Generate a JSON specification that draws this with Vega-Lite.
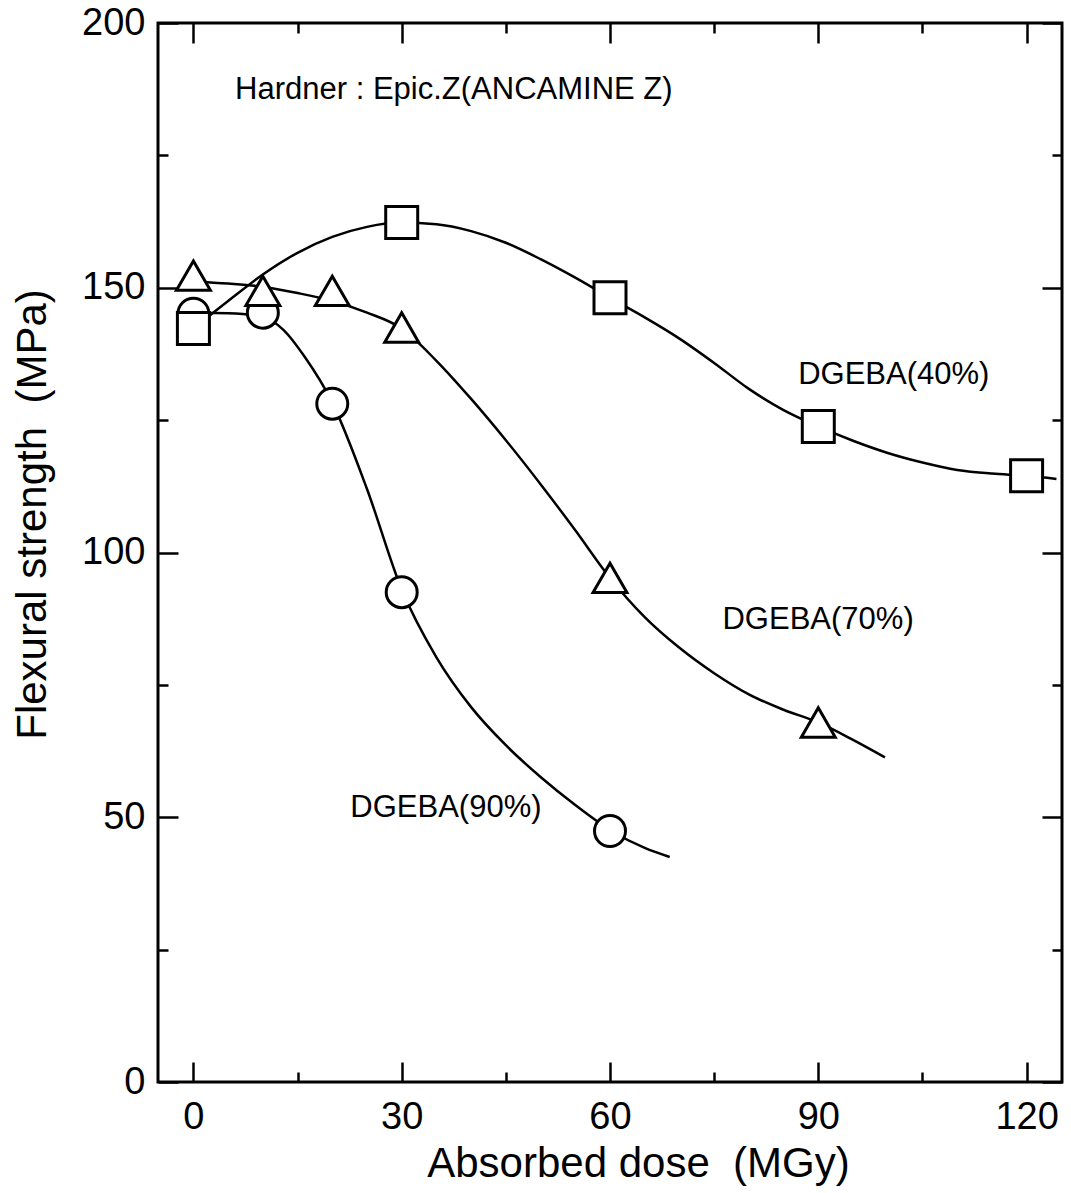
{
  "$schema": "https://vega.github.io/schema/vega-lite/v6.json",
  "width": 904,
  "height": 1059,
  "autosize": {"type": "none"},
  "padding": {"left": 158, "top": 23, "right": 9, "bottom": 111},
  "background": "white",
  "config": {
    "view": {"stroke": "black", "strokeWidth": 3},
    "axis": {
      "domain": false,
      "grid": false,
      "tickColor": "black",
      "tickWidth": 2.5,
      "labelFont": "Liberation Sans",
      "labelFontSize": 38,
      "labelColor": "black",
      "titleFont": "Liberation Sans",
      "titleFontSize": 42,
      "titleFontWeight": "normal",
      "titleColor": "black"
    }
  },
  "datasets": {
    "curves": [
      {"series": "40", "dose": 0, "strength": 142.3},
      {"series": "40", "dose": 5, "strength": 147.5},
      {"series": "40", "dose": 10, "strength": 152.5},
      {"series": "40", "dose": 15, "strength": 156.6},
      {"series": "40", "dose": 20, "strength": 159.6},
      {"series": "40", "dose": 25, "strength": 161.5},
      {"series": "40", "dose": 30, "strength": 162.3},
      {"series": "40", "dose": 35, "strength": 162.0},
      {"series": "40", "dose": 40, "strength": 160.7},
      {"series": "40", "dose": 45, "strength": 158.5},
      {"series": "40", "dose": 50, "strength": 155.4},
      {"series": "40", "dose": 55, "strength": 151.9},
      {"series": "40", "dose": 60, "strength": 148.1},
      {"series": "40", "dose": 65, "strength": 144.4},
      {"series": "40", "dose": 70, "strength": 140.4},
      {"series": "40", "dose": 75, "strength": 135.8},
      {"series": "40", "dose": 80, "strength": 130.9},
      {"series": "40", "dose": 85, "strength": 126.9},
      {"series": "40", "dose": 90, "strength": 123.8},
      {"series": "40", "dose": 95, "strength": 121.1},
      {"series": "40", "dose": 100, "strength": 118.8},
      {"series": "40", "dose": 105, "strength": 117.0},
      {"series": "40", "dose": 110, "strength": 115.6},
      {"series": "40", "dose": 115, "strength": 114.9},
      {"series": "40", "dose": 120, "strength": 114.5},
      {"series": "40", "dose": 124.3, "strength": 113.9},
      {"series": "70", "dose": 0, "strength": 151.2},
      {"series": "70", "dose": 5, "strength": 150.8},
      {"series": "70", "dose": 10, "strength": 150.2},
      {"series": "70", "dose": 15, "strength": 149.0},
      {"series": "70", "dose": 20, "strength": 147.5},
      {"series": "70", "dose": 25, "strength": 145.3},
      {"series": "70", "dose": 30, "strength": 142.3},
      {"series": "70", "dose": 35, "strength": 136.2},
      {"series": "70", "dose": 40, "strength": 129.0},
      {"series": "70", "dose": 45, "strength": 121.2},
      {"series": "70", "dose": 50, "strength": 112.9},
      {"series": "70", "dose": 55, "strength": 104.2},
      {"series": "70", "dose": 60, "strength": 95.2},
      {"series": "70", "dose": 65, "strength": 87.8},
      {"series": "70", "dose": 70, "strength": 82.0},
      {"series": "70", "dose": 75, "strength": 77.2},
      {"series": "70", "dose": 80, "strength": 73.2},
      {"series": "70", "dose": 85, "strength": 70.3},
      {"series": "70", "dose": 90, "strength": 67.9},
      {"series": "70", "dose": 95, "strength": 64.6},
      {"series": "70", "dose": 99.6, "strength": 61.3},
      {"series": "90", "dose": 0, "strength": 145.3},
      {"series": "90", "dose": 5, "strength": 145.2},
      {"series": "90", "dose": 10, "strength": 144.5},
      {"series": "90", "dose": 13, "strength": 142.0},
      {"series": "90", "dose": 16, "strength": 137.0},
      {"series": "90", "dose": 20, "strength": 128.3},
      {"series": "90", "dose": 25, "strength": 112.0},
      {"series": "90", "dose": 30, "strength": 93.0},
      {"series": "90", "dose": 35, "strength": 80.2},
      {"series": "90", "dose": 40, "strength": 70.8},
      {"series": "90", "dose": 45, "strength": 63.6},
      {"series": "90", "dose": 50, "strength": 57.6},
      {"series": "90", "dose": 55, "strength": 52.3},
      {"series": "90", "dose": 60, "strength": 47.6},
      {"series": "90", "dose": 65, "strength": 44.2},
      {"series": "90", "dose": 68.6, "strength": 42.5}
    ],
    "squares": [
      {"dose": 0, "strength": 142.3},
      {"dose": 30, "strength": 162.3},
      {"dose": 60, "strength": 148.1},
      {"dose": 90, "strength": 123.8},
      {"dose": 120, "strength": 114.5}
    ],
    "triangles": [
      {"dose": 0, "strength": 152.3},
      {"dose": 10, "strength": 149.4},
      {"dose": 20, "strength": 149.4},
      {"dose": 30, "strength": 142.5},
      {"dose": 60, "strength": 95.2},
      {"dose": 90, "strength": 67.9}
    ],
    "circles": [
      {"dose": 0, "strength": 145.1},
      {"dose": 10, "strength": 145.3},
      {"dose": 20, "strength": 128.1},
      {"dose": 30, "strength": 92.5},
      {"dose": 60, "strength": 47.4}
    ],
    "labels": [
      {"dose": 6.0, "strength": 187.3, "label": "Hardner : Epic.Z(ANCAMINE Z)"},
      {"dose": 87.1, "strength": 133.5, "label": "DGEBA(40%)"},
      {"dose": 76.2, "strength": 87.3, "label": "DGEBA(70%)"},
      {"dose": 22.6, "strength": 51.7, "label": "DGEBA(90%)"}
    ]
  },
  "resolve": {"axis": {"x": "independent", "y": "independent"}},
  "layer": [
    {
      "data": {"name": "curves"},
      "mark": {"type": "line", "interpolate": "monotone", "color": "black", "strokeWidth": 2.5},
      "encoding": {
        "x": {
          "field": "dose", "type": "quantitative",
          "scale": {"domain": [-5.1, 125.1], "nice": false, "zero": false},
          "axis": {
            "orient": "bottom", "values": [0, 30, 60, 90, 120], "tickSize": -20,
            "labelPadding": 36, "title": "Absorbed dose\u00a0 (MGy)",
            "titleX": 480, "titleY": 94, "titleBaseline": "alphabetic", "titleAlign": "center"
          }
        },
        "y": {
          "field": "strength", "type": "quantitative",
          "scale": {"domain": [0, 200], "nice": false, "zero": true},
          "axis": {
            "orient": "left", "values": [0, 50, 100, 150, 200], "tickSize": -20,
            "labelPadding": 33, "labelBaseline": "middle", "title": "Flexural strength\u00a0 (MPa)",
            "titleAngle": -90, "titleX": -113, "titleY": 491, "titleBaseline": "alphabetic", "titleAlign": "center"
          }
        },
        "detail": {"field": "series"}
      }
    },
    {
      "data": {"name": "circles"},
      "mark": {"type": "point", "shape": "circle", "filled": true, "fill": "white", "stroke": "black", "strokeWidth": 3, "size": 960, "opacity": 1},
      "encoding": {
        "x": {"field": "dose", "type": "quantitative",
          "axis": {"orient": "bottom", "values": [15, 45, 75, 105], "tickSize": -10, "labels": false, "title": null}},
        "y": {"field": "strength", "type": "quantitative",
          "axis": {"orient": "left", "values": [25, 75, 125, 175], "tickSize": -10, "labels": false, "title": null}}
      }
    },
    {
      "data": {"name": "triangles"},
      "mark": {"type": "point", "shape": "triangle-up", "filled": true, "fill": "white", "stroke": "black", "strokeWidth": 3, "size": 1150, "opacity": 1},
      "encoding": {
        "x": {"field": "dose", "type": "quantitative",
          "axis": {"orient": "top", "values": [0, 30, 60, 90, 120], "tickSize": -20, "labels": false, "title": null}},
        "y": {"field": "strength", "type": "quantitative",
          "axis": {"orient": "right", "values": [0, 50, 100, 150, 200], "tickSize": -20, "labels": false, "title": null}}
      }
    },
    {
      "data": {"name": "squares"},
      "mark": {"type": "point", "shape": "square", "filled": true, "fill": "white", "stroke": "black", "strokeWidth": 3, "size": 1024, "opacity": 1},
      "encoding": {
        "x": {"field": "dose", "type": "quantitative",
          "axis": {"orient": "top", "values": [15, 45, 75, 105], "tickSize": -10, "labels": false, "title": null}},
        "y": {"field": "strength", "type": "quantitative",
          "axis": {"orient": "right", "values": [25, 75, 125, 175], "tickSize": -10, "labels": false, "title": null}}
      }
    },
    {
      "data": {"name": "labels"},
      "mark": {"type": "text", "align": "left", "baseline": "middle", "font": "Liberation Sans", "fontSize": 31, "color": "black"},
      "encoding": {
        "x": {"field": "dose", "type": "quantitative", "axis": null},
        "y": {"field": "strength", "type": "quantitative", "axis": null},
        "text": {"field": "label"}
      }
    }
  ]
}
